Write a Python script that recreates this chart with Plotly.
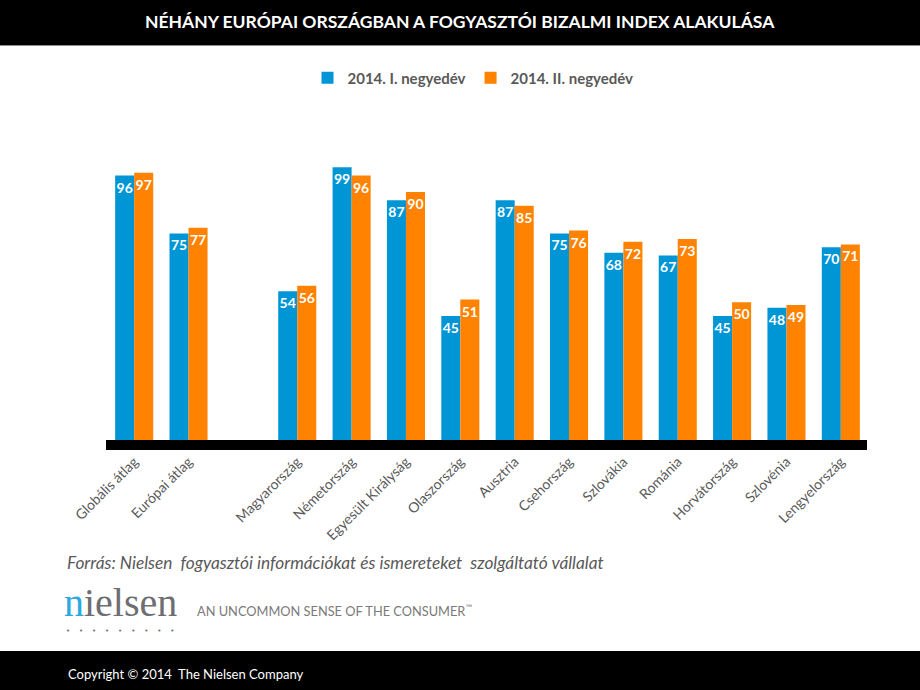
import plotly.graph_objects as go

categories = ["Globális átlag", "Európai átlag", " ", "Magyarország", "Németország",
              "Egyesült Királyság", "Olaszország", "Ausztria", "Csehország", "Szlovákia",
              "Románia", "Horvátország", "Szlovénia", "Lengyelország"]
q1_values = [96, 75, None, 54, 99, 87, 45, 87, 75, 68, 67, 45, 48, 70]
q2_values = [97, 77, None, 56, 96, 90, 51, 85, 76, 72, 73, 50, 49, 71]
series_names = ["2014. I. negyedév", "2014. II. negyedév"]

BLUE = "#0096D6"
ORANGE = "#FF8200"
GRAY = "#595959"

W, H = 920, 690
L, R, T, B = 107, 52, 150, 250
PW, PH = W - L - R, H - T - B


def px(x):
    return (x - L) / PW


def py(y):
    return (H - B - y) / PH


def labels(vals):
    return ["" if v is None else str(v) for v in vals]


fig = go.Figure()
for name, vals, col in [(series_names[0], q1_values, BLUE), (series_names[1], q2_values, ORANGE)]:
    fig.add_trace(go.Bar(
        x=categories, y=vals, name=name, marker=dict(color=col, line=dict(width=0)),
        text=labels(vals), textposition="inside", insidetextanchor="end",
        textfont=dict(color="white", size=14, family="Lato", weight="bold"),
        textangle=0, hoverinfo="x+y",
    ))

shapes = [
    dict(type="rect", xref="paper", yref="paper", x0=px(0), x1=px(W), y0=py(0), y1=py(45),
         fillcolor="black", line=dict(width=0), layer="above"),
    dict(type="line", xref="paper", yref="paper", x0=px(0), x1=px(W), y0=py(45.5), y1=py(45.5),
         line=dict(color="#8c8c8c", width=1)),
    dict(type="rect", xref="paper", yref="paper", x0=px(0), x1=px(W), y0=py(651), y1=py(H),
         fillcolor="black", line=dict(width=0)),
    dict(type="rect", xref="paper", yref="paper", x0=px(106), x1=px(867), y0=py(440), y1=py(450),
         fillcolor="black", line=dict(width=0)),
]

annotations = [
    dict(text="NÉHÁNY EURÓPAI ORSZÁGBAN A FOGYASZTÓI BIZALMI INDEX ALAKULÁSA",
         x=px(460), y=py(21), xref="paper", yref="paper", showarrow=False,
         font=dict(family="Lato", size=17.5, color="white", weight="bold"),
         xanchor="center", yanchor="middle"),
    dict(text="<i>Forrás: Nielsen  fogyasztói információkat és ismereteket  szolgáltató vállalat</i>",
         x=px(65), y=py(562), xref="paper", yref="paper", showarrow=False,
         font=dict(family="Lato", size=17.3, color="#595959"), xanchor="left", yanchor="middle"),
    dict(text="<span style='color:#2BA9E0'>n</span>ielsen",
         x=px(62), y=py(602), xref="paper", yref="paper", showarrow=False,
         font=dict(family="Liberation Serif", size=40, color="#6d6e71"), xanchor="left", yanchor="middle"),
    dict(text="•    •    •    •    •    •    •    •    •",
         x=px(64), y=py(631), xref="paper", yref="paper", showarrow=False,
         font=dict(family="DejaVu Sans", size=7, color="#6d6e71"), xanchor="left", yanchor="middle"),
    dict(text="AN UNCOMMON SENSE OF THE CONSUMER<sup>™</sup>",
         x=px(195), y=py(610), xref="paper", yref="paper", showarrow=False,
         font=dict(family="Lato", size=12.8, color="#7a7a7a"), xanchor="left", yanchor="middle"),
    dict(text="Copyright © 2014  The Nielsen Company",
         x=px(66), y=py(674), xref="paper", yref="paper", showarrow=False,
         font=dict(family="Lato", size=13, color="white"), xanchor="left", yanchor="middle"),
]

fig.update_layout(
    width=W, height=H, margin=dict(l=L, r=R, t=T, b=B, pad=0),
    paper_bgcolor="white", plot_bgcolor="white",
    barmode="group", bargap=0.3, bargroupgap=0,
    uniformtext=dict(minsize=14, mode="show"),
    showlegend=True,
    legend=dict(orientation="h", x=px(473), y=py(78), xanchor="center", yanchor="middle",
                font=dict(family="Lato", size=15, color=GRAY, weight="bold"),
                itemwidth=30, traceorder="normal", bgcolor="rgba(0,0,0,0)"),
    xaxis=dict(type="category", categoryorder="array", categoryarray=categories,
               tickangle=-45, ticks="", showline=False, showgrid=False, zeroline=False,
               ticklabelstandoff=10,
               tickfont=dict(family="Lato", size=14, color=GRAY)),
    yaxis=dict(range=[0, PH / 2.755], visible=False, showgrid=False, zeroline=False),
    shapes=shapes, annotations=annotations,
    font=dict(family="Lato"),
)

fig.write_html("out.html")
